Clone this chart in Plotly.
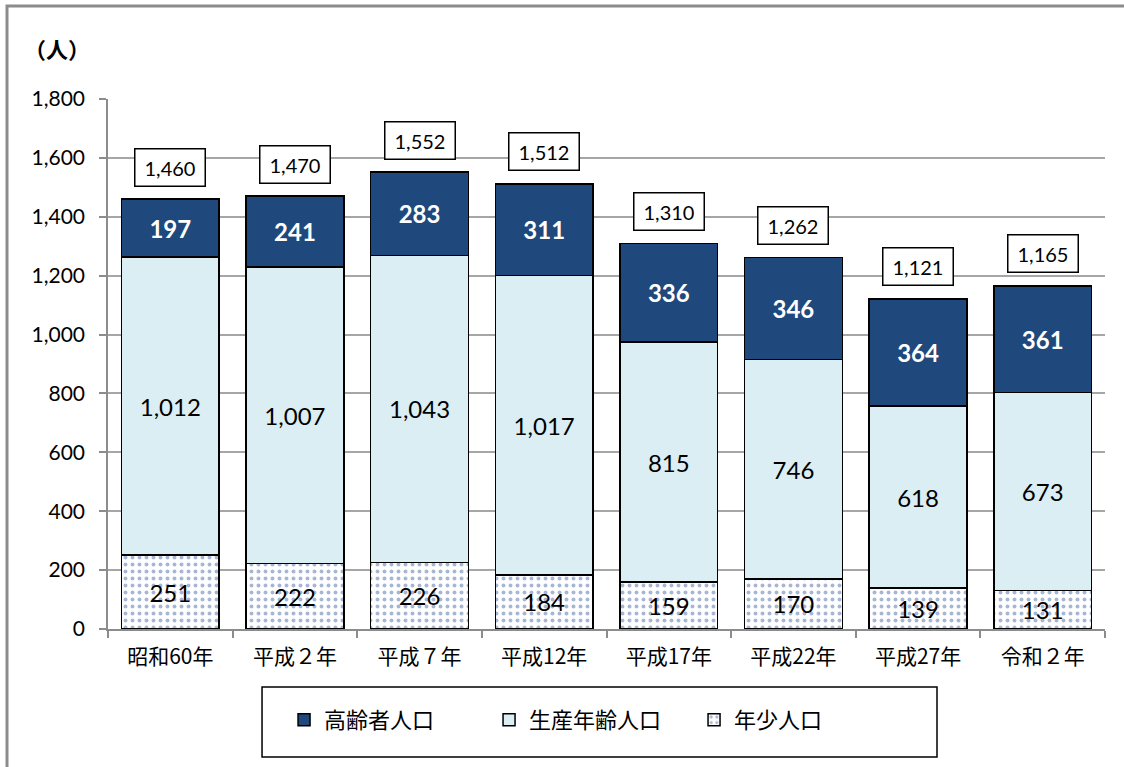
import plotly.graph_objects as go

categories = ["昭和60年", "平成２年", "平成７年", "平成12年", "平成17年", "平成22年", "平成27年", "令和２年"]
elderly = [197, 241, 283, 311, 336, 346, 364, 361]
working = [1012, 1007, 1043, 1017, 815, 746, 618, 673]
young = [251, 222, 226, 184, 159, 170, 139, 131]
totals = [1460, 1470, 1552, 1512, 1310, 1262, 1121, 1165]
series_names = ["高齢者人口", "生産年齢人口", "年少人口"]
y_ticks = [0, 200, 400, 600, 800, 1000, 1200, 1400, 1600, 1800]

NUM_FONT = "Lato, 'Noto Sans CJK JP', sans-serif"
JP_FONT = "'Noto Sans CJK JP', sans-serif"

fmt = lambda v: f"{v:,}"

fig = go.Figure()
fig.add_trace(go.Bar(
    x=categories, y=young, name=series_names[2],
    marker=dict(color="white", line=dict(color="black", width=1.5),
                pattern=dict(shape=".", fgcolor="#4F6FA8", bgcolor="white", size=7, solidity=0.25)),
    text=[fmt(v) for v in young], textposition="inside", insidetextanchor="middle",
    textangle=0, textfont=dict(family=NUM_FONT, size=24, color="black"),
))
fig.add_trace(go.Bar(
    x=categories, y=working, name=series_names[1],
    marker=dict(color="#DAEEF3", line=dict(color="black", width=1.5)),
    text=[fmt(v) for v in working], textposition="inside", insidetextanchor="middle",
    textangle=0, textfont=dict(family=NUM_FONT, size=24, color="black"),
))
fig.add_trace(go.Bar(
    x=categories, y=elderly, name=series_names[0],
    marker=dict(color="#1F497D", line=dict(color="black", width=1.5)),
    text=[f"<b>{fmt(v)}</b>" for v in elderly], textposition="inside", insidetextanchor="middle",
    textangle=0, textfont=dict(family=NUM_FONT, size=24, color="white"),
))

for c, t in zip(categories, totals):
    fig.add_annotation(
        x=c, y=t, xref="x", yref="y", text=fmt(t), showarrow=False,
        yshift=32, yanchor="middle", width=63, height=30, borderpad=3,
        bordercolor="black", borderwidth=1.5, bgcolor="white",
        font=dict(family=NUM_FONT, size=20, color="black"),
    )

fig.add_annotation(x=-0.051, y=1.096, xref="paper", yref="paper", text="<b>（人）</b>",
                   xanchor="center", yanchor="middle",
                   showarrow=False, font=dict(family=JP_FONT, size=22, color="black"))

# outer frame
fig.add_shape(type="rect", xref="paper", yref="paper", x0=-0.1013, y0=-0.28, x1=1.03, y1=1.1755,
              line=dict(color="#8C8C8C", width=3), layer="below")
# legend box
fig.add_shape(type="rect", xref="paper", yref="paper", x0=0.1545, y0=-0.2415, x1=0.8315, y1=-0.1094,
              line=dict(color="black", width=1.5))

fig.update_layout(
    width=1124, height=767,
    margin=dict(l=108, r=19, t=99, b=138),
    barmode="stack", bargap=0.215,
    plot_bgcolor="white", paper_bgcolor="white",
    showlegend=True,
    legend=dict(orientation="h", x=0.485, xanchor="center", y=-0.1717, yanchor="middle",
                traceorder="reversed", font=dict(family=JP_FONT, size=22, color="black"),
                entrywidth=160, bgcolor="rgba(0,0,0,0)", itemwidth=30),
    font=dict(family=NUM_FONT, color="black"),
    uniformtext=dict(minsize=24, mode="show"),
)
fig.update_xaxes(
    showline=True, linecolor="#8C8C8C", linewidth=1.5,
    ticks="outside", tickson="boundaries", ticklen=7, tickcolor="#8C8C8C", tickwidth=1.5,
    tickfont=dict(family=JP_FONT, size=21, color="black"), ticklabelstandoff=8,
)
fig.update_yaxes(
    range=[0, 1800], tickvals=y_ticks, ticktext=[fmt(v) for v in y_ticks],
    showline=True, linecolor="#8C8C8C", linewidth=1.5,
    showgrid=True, gridcolor="#A6A6A6", gridwidth=1.5,
    ticks="outside", ticklen=7, tickcolor="#8C8C8C", tickwidth=1.5,
    tickfont=dict(family=NUM_FONT, size=21, color="black"), ticklabelstandoff=10,
    zeroline=False,
)

fig.write_html("out.html", config={"displayModeBar": False},
               post_script="document.body.style.margin='0';")
